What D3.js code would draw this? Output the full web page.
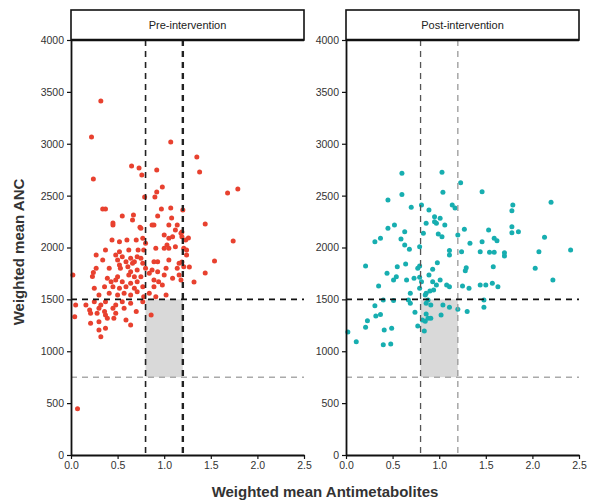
<!DOCTYPE html>
<html><head><meta charset="utf-8">
<script src="https://cdn.jsdelivr.net/npm/d3@7"></script>
<style>body{margin:0;background:#fff}svg{display:block}</style>
</head><body>
<svg id="c" width="596" height="504"></svg>
<script>
const panels = ["Pre-intervention", "Post-intervention"];
const xTicks = [0, 0.5, 1.0, 1.5, 2.0, 2.5];
const yTicks = [0, 500, 1000, 1500, 2000, 2500, 3000, 3500, 4000];
const amLow = 0.8, amHigh = 1.2, ancLow = 750, ancHigh = 1500;

const pre = [
[0.32,3412],[0.22,3065],[1.07,3017],[0.24,2660],[0.65,2785],[0.73,2767],[0.76,2700],[0.92,2747],[0.98,2583],[0.92,2535],
[0.90,2487],[0.79,2487],[0.37,2371],[0.34,2371],[0.55,2304],[0.67,2313],[0.66,2265],[0.45,2236],[0.97,2371],[1.07,2381],
[1.20,2361],[1.08,2284],[0.93,2304],[0.89,2217],[1.05,2217],[1.14,2217],[0.74,2195],
[1.35,2872],[1.38,2728],[1.68,2525],[1.79,2564],[1.44,2226],[1.74,2063],[1.26,2092],[1.19,2149],[1.24,1976],
[1.24,1928],[1.54,1870],[1.19,1860],[1.27,1812],[1.44,1754],[1.32,1667],
[0.45,2217],[0.75,2185],[0.87,2217],[1.12,2169],[1.18,2137],[1.00,2121],[1.05,2089],[1.09,2104],[1.19,2104],
[0.44,2072],[0.52,2056],[0.60,2072],[0.70,2072],[0.77,2089],[0.80,2040],[1.03,2024],[1.12,2008],[1.23,2072],
[0.37,1976],[0.52,1960],[0.62,1976],[0.72,1976],[0.78,1976],[0.91,1992],[1.00,1992],[1.05,1992],[1.21,1992],
[0.48,1928],[0.55,1912],[0.64,1896],[0.71,1912],[0.27,1928],[0.34,1880],[0.50,1880],[0.59,1863],[0.68,1863],[0.75,1896],
[0.52,1831],[0.61,1815],[0.66,1847],[0.77,1847],[0.89,1863],[0.93,1863],[1.05,1880],[1.16,1847],
[0.27,1799],[0.41,1799],[0.53,1799],[0.64,1767],[0.71,1783],[0.80,1799],[0.87,1783],[0.93,1767],[1.02,1799],[1.14,1799],[1.21,1815],
[0.02,1735],[0.50,1719],[0.62,1735],[0.68,1719],[0.75,1719],[0.84,1751],[1.00,1735],[1.09,1703],[1.16,1735],
[0.39,1703],[0.43,1671],[0.48,1687],[0.55,1671],[0.64,1655],[0.71,1671],[0.89,1687],[0.94,1671],[1.18,1687],
[0.24,1760],[0.23,1720],
[0.25,1607],[0.36,1622],[0.45,1622],[0.52,1607],[0.59,1622],[0.68,1607],[0.77,1622],[0.89,1622],[0.98,1639],
[0.30,1542],[0.41,1558],[0.50,1542],[0.57,1558],[0.64,1542],[0.71,1574],[0.78,1526],[0.84,1558],[0.91,1526],[1.02,1542],
[0.05,1446],[0.16,1446],[0.25,1478],[0.32,1446],[0.37,1478],[0.48,1446],[0.55,1478],[0.64,1462],[0.77,1478],
[0.20,1398],[0.30,1414],[0.36,1382],[0.45,1414],[0.57,1414],
[0.04,1333],[0.21,1366],[0.28,1366],[0.37,1350],[0.48,1366],[0.70,1382],[0.86,1350],
[0.21,1269],[0.30,1285],[0.39,1317],[0.46,1317],[0.59,1301],
[0.30,1205],[0.37,1221],[0.64,1253],[0.32,1140],[0.07,445]
];

const post = [
[0.60,2715],[1.03,2725],[0.60,2512],[1.04,2532],[0.45,2458],[0.70,2387],[0.81,2410],[0.89,2362],[0.95,2297],[1.01,2281],
[0.86,2233],[0.97,2233],[1.06,2217],[0.83,2137],[0.99,2130],[1.03,2104],[1.20,2121],[0.45,2185],[0.52,2217],[0.63,2152],
[0.59,2082],[0.31,2056],[0.37,2088],[0.63,2024],[0.68,1983],[0.79,2008],[1.11,1970],[1.11,1928],[0.21,1822],[0.44,1751],
[0.55,1815],[0.64,1841],[0.77,1799],[0.79,1822],[0.98,1854],[0.93,1790],[0.35,1629],[0.51,1687],[0.54,1719],[0.65,1687],
[0.73,1703],[0.79,1713],[0.81,1671],[0.89,1735],[0.93,1671],[0.97,1639],[1.01,1687],[1.08,1639],[1.11,1622],[0.79,1607],
[0.86,1558],[0.90,1580],[0.94,1590],[0.69,1558],[0.85,1542],[1.14,2410],[1.17,2380],[0.95,2249],
[1.23,2625],[1.46,2538],[1.79,2410],[1.78,2355],[2.20,2436],[1.27,2175],[1.53,2169],[1.78,2201],[1.78,2143],[1.85,2152],
[2.13,2098],[1.33,2040],[1.46,2056],[1.59,2088],[1.62,2066],[1.24,1960],[1.44,1960],[1.54,1954],[1.59,1954],[1.70,1950],
[1.70,1918],[2.07,1960],[2.41,1976],[1.29,1806],[1.28,1777],[1.58,1815],[2.03,1799],[2.22,1687],[1.25,1629],[1.32,1607],
[1.44,1639],[1.50,1639],[1.57,1655],[1.63,1622],[1.48,1495],
[0.02,1185],[0.11,1092],[0.21,1231],[0.23,1295],[0.32,1340],[0.37,1355],[0.31,1439],[0.41,1205],[0.49,1221],[0.40,1062],
[0.48,1070],[0.40,1494],[0.51,1488],[0.67,1494],[0.69,1462],[0.74,1375],[0.77,1243],[0.82,1301],[0.84,1195],[0.88,1317],
[0.91,1317],[0.86,1359],[0.91,1446],[1.02,1350],[1.04,1446],[1.11,1423],[1.20,1404],[1.30,1382],[1.48,1423],
[0.88,1494],[0.86,1462],[0.85,1290]
];
const seriesData = [pre, post];
const colors = ["#e8412f", "#17aeb0"];
const vLineColors = [["#222", "#222"], ["#555", "#999"]];
const vLineWidths = [[1.6, 2.4], [1.3, 1.3]];

const svg = d3.select("#c");
const panelX = [71, 346], pw = 233, topY = 40, bottomY = 455;
const y = d3.scaleLinear().domain([0, 4000]).range([bottomY, topY]);
const font = "'Liberation Sans Narrow','Liberation Sans',Arial,sans-serif";

panels.forEach((title, i) => {
  const x = d3.scaleLinear().domain([0, 2.5]).range([panelX[i], panelX[i] + pw]);
  const g = svg.append("g");
  g.append("rect").attr("x", x(amLow)).attr("y", y(ancHigh))
    .attr("width", x(amHigh) - x(amLow)).attr("height", y(ancLow) - y(ancHigh))
    .attr("fill", "#d9d9d9");
  g.selectAll("circle").data(seriesData[i]).join("circle")
    .attr("cx", d => x(d[0])).attr("cy", d => y(d[1])).attr("r", 2.5)
    .attr("fill", colors[i]);
  [amLow, amHigh].forEach((v, k) => {
    g.append("line").attr("x1", x(v)).attr("x2", x(v)).attr("y1", topY).attr("y2", bottomY)
      .attr("stroke", vLineColors[i][k]).attr("stroke-width", vLineWidths[i][k])
      .attr("stroke-dasharray", "6,5");
  });
  g.append("line").attr("x1", x(0)).attr("x2", x(2.5)).attr("y1", y(ancHigh)).attr("y2", y(ancHigh))
    .attr("stroke", "#111").attr("stroke-width", 1.6).attr("stroke-dasharray", "6,5");
  g.append("line").attr("x1", x(0)).attr("x2", x(2.5)).attr("y1", y(ancLow)).attr("y2", y(ancLow))
    .attr("stroke", "#aaa").attr("stroke-width", 1.6).attr("stroke-dasharray", "6,5");
  const ax = g.append("g").attr("transform", `translate(0,${bottomY})`)
    .call(d3.axisBottom(x).tickValues(xTicks).tickFormat(d3.format(".1f")).tickSize(4).tickSizeOuter(0));
  const ay = g.append("g").attr("transform", `translate(${panelX[i]},0)`)
    .call(d3.axisLeft(y).tickValues(yTicks).tickFormat(d3.format("d")).tickSize(4).tickSizeOuter(0));
  [ax, ay].forEach(a => {
    a.select(".domain").attr("stroke", "#111").attr("stroke-width", 1.8);
    a.selectAll(".tick line").attr("stroke", "#111").attr("stroke-width", 1.2);
    a.selectAll("text").attr("font-family", font).attr("font-size", 10.5).attr("fill", "#333");
  });
  g.append("rect").attr("x", panelX[i]).attr("y", 10).attr("width", pw).attr("height", topY - 10)
    .attr("fill", "#fff").attr("stroke", "#111").attr("stroke-width", 1.6);
  g.append("line").attr("x1", panelX[i]).attr("x2", panelX[i] + pw).attr("y1", topY).attr("y2", topY)
    .attr("stroke", "#111").attr("stroke-width", 2.5);
  g.append("text").attr("x", panelX[i] + pw / 2).attr("y", 29).attr("text-anchor", "middle")
    .attr("font-family", font).attr("font-size", 11).attr("fill", "#222").text(title);
});

svg.append("text").attr("transform", `translate(24,252) rotate(-90)`)
  .attr("text-anchor", "middle").attr("font-family", "'Liberation Sans',Arial,sans-serif")
  .attr("font-size", 15).attr("font-weight", "bold").attr("fill", "#333").text("Weighted mean ANC");
svg.append("text").attr("x", 325).attr("y", 497)
  .attr("text-anchor", "middle").attr("font-family", "'Liberation Sans',Arial,sans-serif")
  .attr("font-size", 15).attr("font-weight", "bold").attr("fill", "#333").text("Weighted mean Antimetabolites");
</script>
</body></html>
